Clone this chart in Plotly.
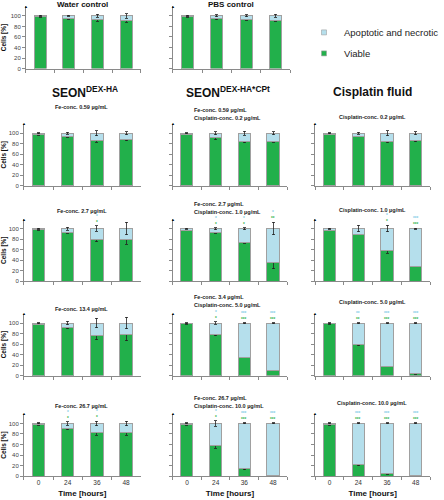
import plotly.graph_objects as go

# ---------------- data ----------------
TIMES = ["0", "24", "36", "48"]

water_viable = [98, 95, 93, 91]
water_viable_err = [1, 1, 3, 3]
water_apop_err = [1, 1, 3, 4]

pbs_viable = [98, 95, 94, 92]
pbs_viable_err = [1, 2, 2, 2]
pbs_apop_err = [1, 2, 2, 3]

# SEON DEX-HA (rows: Fe 0.59, 2.7, 13.4, 26.7 ug/mL)
seon_viable = [[97, 93, 87, 88], [98, 92, 80, 80], [98, 91, 76, 78], [98, 90, 82, 82]]
seon_viable_err = [[1, 1, 4, 2], [1, 1, 5, 10], [1, 2, 8, 12], [1, 2, 4, 4]]
seon_apop_err = [[1, 2, 5, 3], [1, 3, 5, 12], [1, 3, 9, 11], [1, 3, 4, 4]]
seon_stars_apop = [["", "", "", ""], ["", "", "*", ""], ["", "", "", ""], ["", "*", "*", ""]]
seon_stars_viable = [["", "", "", ""], ["", "", "*", ""], ["", "", "", ""], ["", "*", "*", ""]]

# SEON DEX-HA*CPt
cpt_viable = [[98, 91, 85, 85], [97, 92, 73, 35], [98.5, 78, 35, 10], [98, 58, 14, 2]]
cpt_viable_err = [[1, 3, 3, 2], [1, 1, 1, 11], [1, 2, 1, 1], [1, 5, 2, 1]]
cpt_apop_err = [[1, 3, 4, 3], [1, 2, 2, 12], [1, 2, 1, 1], [1, 5, 1, 1]]
cpt_stars_apop = [["", "", "", ""], ["", "*", "*", "*"], ["", "*", "***", "***"], ["", "*", "***", "***"]]
cpt_stars_viable = [["", "", "", ""], ["", "*", "*", "**"], ["", "*", "***", "***"], ["", "*", "***", "***"]]

# Cisplatin fluid
cis_viable = [[98, 94, 85, 86], [97, 89, 59, 29], [99, 59, 18, 4], [98, 22, 4.5, 0.5]]
cis_viable_err = [[1, 1, 3, 2], [1, 1, 6, 1], [1, 2, 1, 1], [1, 2, 1, 0.5]]
cis_apop_err = [[1, 2, 5, 3], [1, 6, 6, 1], [1, 1, 1, 1], [1, 1, 1, 1]]
cis_stars_apop = [["", "", "", ""], ["", "", "*", "***"], ["", "**", "***", "***"], ["", "***", "***", "***"]]
cis_stars_viable = [["", "", "", ""], ["", "", "*", "***"], ["", "**", "***", "***"], ["", "***", "***", "***"]]

seon_titles = ["Fe-conc. 0.59 µg/mL", "Fe-conc. 2.7 µg/mL", "Fe-conc. 13.4 µg/mL", "Fe-conc. 26.7 µg/mL"]
cpt_fe_titles = ["Fe-conc. 0.59 µg/mL", "Fe-conc. 2.7 µg/mL", "Fe-conc. 3.4 µg/mL", "Fe-conc. 26.7 µg/mL"]
cpt_cis_titles = ["Cisplatin-conc. 0.2 µg/mL", "Cisplatin-conc. 1.0 µg/mL", "Cisplatin-conc. 5.0 µg/mL", "Cisplatin-conc. 10.0 µg/mL"]
cis_titles = ["Cisplatin-conc. 0.2 µg/mL", "Cisplatin-conc. 1.0 µg/mL", "Cisplatin-conc. 5.0 µg/mL", "Cisplatin-conc. 10.0 µg/mL"]
header_titles = ["SEON<sup>DEX-HA</sup>", "SEON<sup>DEX-HA*CPt</sup>", "Cisplatin fluid"]
control_titles = ["Water control", "PBS control"]

# ---------------- styling / layout ----------------
W, H = 444, 500
FONT = "Liberation Sans, Arial, sans-serif"
GREEN = "#22b04b"
LBLUE = "#b5dfec"
OUTLINE = "#a0a0a0"
AXC = "#8a8a8a"
STAR_G = "#2fb24a"
STAR_B = "#7fcbe6"
YMAX = 118
PX100 = 53
BAR_W = 0.42


def fx(px):
    return px / W


def fy(py):
    return 1 - py / H


COL_X = [(23, 140), (172, 287), (315, 430)]
ROW_Y0 = [187, 283, 378, 479]

panels = []
panels.append(dict(x=(25, 140), y0=69, v=water_viable, ve=water_viable_err, ae=water_apop_err,
                   sa=["", "", "", ""], sv=["", "", "", ""], ylab=True, xlab=False))
panels.append(dict(x=(172, 290), y0=69, v=pbs_viable, ve=pbs_viable_err, ae=pbs_apop_err,
                   sa=["", "", "", ""], sv=["", "", "", ""], ylab=False, xlab=False))
groups = [
    (seon_viable, seon_viable_err, seon_apop_err, seon_stars_apop, seon_stars_viable),
    (cpt_viable, cpt_viable_err, cpt_apop_err, cpt_stars_apop, cpt_stars_viable),
    (cis_viable, cis_viable_err, cis_apop_err, cis_stars_apop, cis_stars_viable),
]
for r in range(4):
    for c in range(3):
        v, ve, ae, sa, sv = groups[c]
        panels.append(dict(x=COL_X[c], y0=ROW_Y0[r], v=v[r], ve=ve[r], ae=ae[r], sa=sa[r], sv=sv[r],
                           ylab=(c == 0), xlab=(r == 3)))

fig = go.Figure()

# legend entries
fig.add_trace(go.Scatter(x=[None], y=[None], mode="markers", name="Apoptotic and necrotic",
                         legendgroup="a", marker=dict(symbol="square", size=5, color=LBLUE,
                                                      line=dict(color=OUTLINE, width=0.6))))
fig.add_trace(go.Scatter(x=[None], y=[None], mode="markers", name="Viable",
                         legendgroup="v", marker=dict(symbol="square", size=5, color=GREEN,
                                                      line=dict(color=OUTLINE, width=0.6))))

layout_axes = {}
annotations = []
for i, p in enumerate(panels, start=1):
    xa = "x" if i == 1 else f"x{i}"
    ya = "y" if i == 1 else f"y{i}"
    apop = [100 - val for val in p["v"]]
    fig.add_trace(go.Bar(x=TIMES, y=p["v"], xaxis=xa, yaxis=ya, width=BAR_W, name="Viable",
                         showlegend=False,
                         marker=dict(color=GREEN, line=dict(color=OUTLINE, width=1)),
                         error_y=dict(type="data", array=p["ve"], color="#222", thickness=0.8, width=1.5)))
    fig.add_trace(go.Bar(x=TIMES, y=apop, xaxis=xa, yaxis=ya, width=BAR_W, name="Apoptotic and necrotic",
                         showlegend=False,
                         marker=dict(color=LBLUE, line=dict(color=OUTLINE, width=1)),
                         error_y=dict(type="data", array=p["ae"], color="#222", thickness=0.8, width=1.5)))
    x0, x1 = p["x"]
    y0 = p["y0"]
    ytop = y0 - YMAX * PX100 / 100
    xkey = "xaxis" if i == 1 else f"xaxis{i}"
    ykey = "yaxis" if i == 1 else f"yaxis{i}"
    xax = dict(domain=[fx(x0), fx(x1)], anchor=ya, type="category", range=[-0.5, 3.5],
               showline=True, linecolor=AXC, linewidth=1, ticks="outside", ticklen=3,
               tickcolor=AXC, tickson="boundaries", showticklabels=p["xlab"],
               tickfont=dict(size=6.5, color="#333"), showgrid=False, zeroline=False)
    if p["xlab"]:
        xax["title"] = dict(text="Time [hours]", font=dict(size=8, weight="bold", color="#111"), standoff=5)
    yax = dict(domain=[fy(y0), fy(ytop)], anchor=xa, range=[0, YMAX],
               tickvals=[0, 20, 40, 60, 80, 100], showline=True, linecolor=AXC, linewidth=1,
               ticks="outside", ticklen=3, tickcolor=AXC, showticklabels=p["ylab"],
               tickfont=dict(size=6, color="#444"), showgrid=False, zeroline=False)
    if p["ylab"]:
        yax["title"] = dict(text="Cells [%]", font=dict(size=6.5, weight="bold", color="#111"), standoff=4)
    layout_axes[xkey] = xax
    layout_axes[ykey] = yax
    # small arrow head on top of the y axis
    annotations.append(dict(x=-0.5, y=YMAX, xref=xa, yref=ya, text="▲", showarrow=False,
                            xanchor="center", yanchor="middle", font=dict(size=4, color="#000")))
    # significance stars (x given as category index): light blue line above green line
    for k in range(len(TIMES)):
        lines = []
        if p["sa"][k]:
            lines.append(f'<span style="color:{STAR_B}">{p["sa"][k]}</span>')
        if p["sv"][k]:
            lines.append(f'<span style="color:{STAR_G}">{p["sv"][k]}</span>')
        if lines:
            top = 100 + p["ae"][k]
            annotations.append(dict(x=k, y=min(top, YMAX), xref=xa, yref=ya, text="<br>".join(lines),
                                    showarrow=False, xanchor="center", yanchor="bottom", borderpad=0,
                                    font=dict(size=4.5, weight="bold")))

# control titles
for txt, (cx, cy) in zip(control_titles, [(82, 5), (231, 5)]):
    annotations.append(dict(x=fx(cx), y=fy(cy), xref="paper", yref="paper", text=txt, showarrow=False,
                            xanchor="center", yanchor="middle",
                            font=dict(size=8, weight="bold", color="#111")))
# headers
for txt, cx in zip(header_titles, [84, 228, 372]):
    annotations.append(dict(x=fx(cx), y=fy(93), xref="paper", yref="paper", text=txt, showarrow=False,
                            xanchor="center", yanchor="middle",
                            font=dict(size=12, weight="bold", color="#111")))
# panel titles
SEON_TY = [108, 212, 311, 408]
CPT_TY = [(111, 119), (205, 213), (299, 307), (400, 408)]
CIS_TY = [118, 211, 304, 405]
TF = dict(size=5.5, weight="bold", color="#222")
for r in range(4):
    annotations.append(dict(x=fx(81), y=fy(SEON_TY[r]), xref="paper", yref="paper", text=seon_titles[r],
                            showarrow=False, xanchor="center", yanchor="middle", font=TF))
    annotations.append(dict(x=fx(191), y=fy(CPT_TY[r][0]), xref="paper", yref="paper", text=cpt_fe_titles[r],
                            showarrow=False, xanchor="left", yanchor="middle", font=TF))
    annotations.append(dict(x=fx(191), y=fy(CPT_TY[r][1]), xref="paper", yref="paper", text=cpt_cis_titles[r],
                            showarrow=False, xanchor="left", yanchor="middle", font=TF))
    annotations.append(dict(x=fx(372), y=fy(CIS_TY[r]), xref="paper", yref="paper", text=cis_titles[r],
                            showarrow=False, xanchor="center", yanchor="middle", font=TF))

fig.update_layout(
    width=W, height=H, margin=dict(l=0, r=0, t=0, b=0),
    paper_bgcolor="white", plot_bgcolor="white",
    barmode="stack", bargap=0.5,
    font=dict(family=FONT, color="#222"),
    showlegend=True,
    legend=dict(x=fx(304), y=fy(18), xanchor="left", yanchor="top", traceorder="grouped",
                tracegroupgap=2, font=dict(size=9.5, color="#222"), bgcolor="rgba(0,0,0,0)",
                itemwidth=30),
    annotations=annotations,
    **layout_axes,
)

fig.write_html("out.html", config={"displayModeBar": False},
               post_script="document.body.style.margin='0px';document.body.style.padding='0px';")
